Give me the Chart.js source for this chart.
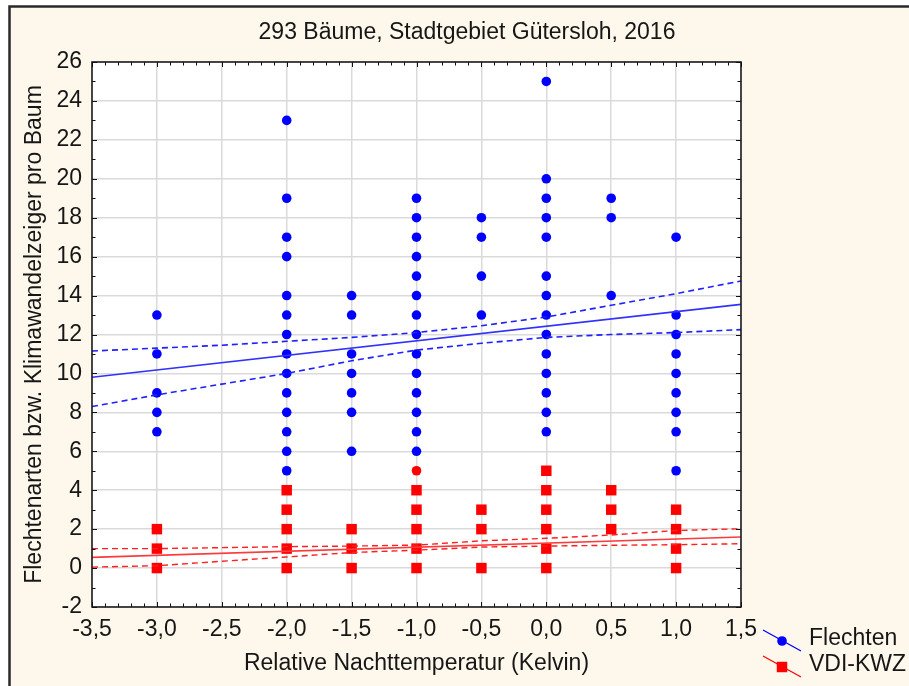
<!DOCTYPE html>
<html>
<head>
<meta charset="utf-8">
<title>293 Bäume, Stadtgebiet Gütersloh, 2016</title>
<script src="https://cdn.jsdelivr.net/npm/chart.js@4.4.0/dist/chart.umd.min.js"></script>
<style>
  html, body { margin: 0; padding: 0; background: #ffffff; }
  #wrap { width: 909px; height: 686px; }
</style>
</head>
<body>
<div id="wrap"><canvas id="chart" width="909" height="686"></canvas></div>
<script>
// Temperaturklassen (x) und Messwerte je Klasse
var tempColumns = [-3.0, -2.0, -1.5, -1.0, -0.5, 0.0, 0.5, 1.0];
var flechtenByColumn = [
    [13, 11, 9, 8, 7],
    [23, 19, 17, 16, 14, 13, 12, 11, 10, 9, 8, 7, 6, 5],
    [14, 13, 11, 10, 9, 8, 6],
    [19, 18, 17, 16, 15, 14, 13, 12, 11, 10, 9, 8, 7, 6, 5],
    [18, 17, 15, 13],
    [25, 20, 19, 18, 17, 15, 14, 13, 12, 11, 10, 9, 8, 7],
    [19, 18, 14],
    [17, 13, 12, 11, 10, 9, 8, 7, 5]
];
var vdiByColumn = [
    [2, 1, 0],
    [4, 3, 2, 1, 0],
    [2, 1, 0],
    [4, 3, 2, 1, 0],
    [3, 2, 0],
    [5, 4, 3, 2, 1, 0],
    [4, 3, 2],
    [3, 2, 1, 0]
];
// rot markierter Flechten-Punkt
var flechtenMarked = [[-1.0, 5]];

// Regressionsgeraden (Endpunkte) und Konfidenzbänder
var fitX = [-3.5, 1.5];
var flechtenFit = [9.8, 13.55];
var vdiFit = [0.55, 1.6];
var bandX = [-3.5, -3.0, -2.5, -2.0, -1.5, -1.0, -0.5, 0.0, 0.5, 1.0, 1.5];
var flechtenUpper = [11.15, 11.3, 11.45, 11.65, 11.85, 12.1, 12.45, 12.9, 13.5, 14.1, 14.75];
var flechtenLower = [8.3, 8.9, 9.45, 10.0, 10.65, 11.2, 11.55, 11.85, 12.0, 12.1, 12.25];
var vdiUpper = [1.0, 1.0, 1.05, 1.1, 1.13, 1.18, 1.4, 1.53, 1.7, 1.93, 2.02];
var vdiLower = [0.05, 0.12, 0.35, 0.57, 0.8, 0.92, 1.08, 1.13, 1.17, 1.2, 1.25];

// Achsen
var xMin = -3.5, xMax = 1.5, xStep = 0.5;
var yMin = -2, yMax = 26, yStep = 2;

var BLUE = '#0000ff';
var RED = '#ff0000';
var FONT = '"Liberation Sans", Arial, sans-serif';
var TEXT = '#161616';

// Punktlisten aus den Spalten bauen
function toPoints(columns) {
    var pts = [];
    for (var i = 0; i < tempColumns.length; i++) {
        for (var j = 0; j < columns[i].length; j++) {
            pts.push({ x: tempColumns[i], y: columns[i][j] });
        }
    }
    return pts;
}
function toLine(xs, ys) {
    return xs.map(function (x, i) { return { x: x, y: ys[i] }; });
}

var flechtenPoints = toPoints(flechtenByColumn);
var flechtenColors = flechtenPoints.map(function (p) {
    var marked = flechtenMarked.some(function (m) { return m[0] === p.x && m[1] === p.y; });
    return marked ? RED : BLUE;
});

function lineSet(data, color, dashed, width) {
    return {
        type: 'line',
        data: data,
        borderColor: color,
        borderWidth: width,
        borderDash: dashed ? [6, 4] : [],
        pointRadius: 0,
        showLine: true,
        fill: false,
        tension: 0,
        order: 1
    };
}

// Hintergrund, Rahmen, Titel, Teilstriche und Legende
var decorPlugin = {
    id: 'decor',
    beforeDraw: function (chart) {
        var ctx = chart.ctx, a = chart.chartArea;
        ctx.save();
        ctx.fillStyle = '#ffffff';
        ctx.fillRect(0, 0, chart.width, chart.height);
        ctx.fillStyle = '#fef8ec';
        ctx.fillRect(10, 7, chart.width - 10, chart.height - 7);
        ctx.strokeStyle = '#2a2a2a';
        ctx.lineWidth = 2.5;
        ctx.beginPath();
        ctx.moveTo(9.5, chart.height);
        ctx.lineTo(9.5, 6.5);
        ctx.lineTo(chart.width, 6.5);
        ctx.stroke();
        ctx.fillStyle = '#ffffff';
        ctx.fillRect(a.left, a.top, a.right - a.left, a.bottom - a.top);
        ctx.restore();
    },
    afterDraw: function (chart) {
        var ctx = chart.ctx, a = chart.chartArea;
        var xs = chart.scales.x, ys = chart.scales.y;
        ctx.save();

        // Titel
        ctx.fillStyle = TEXT;
        ctx.font = '23px ' + FONT;
        ctx.textAlign = 'center';
        ctx.textBaseline = 'middle';
        ctx.fillText('293 Bäume, Stadtgebiet Gütersloh, 2016', 467, 33);

        // Plotrahmen
        ctx.strokeStyle = '#111111';
        ctx.lineWidth = 1.5;
        ctx.strokeRect(a.left, a.top, a.right - a.left, a.bottom - a.top);

        // Teilstriche nach innen auf allen vier Seiten
        ctx.lineWidth = 1;
        ctx.beginPath();
        var i, px, len;
        for (i = 0; i <= 50; i++) {
            px = Math.round(xs.getPixelForValue(xMin + i * 0.1)) + 0.5;
            len = (i % 5 === 0) ? 5 : 3.5;
            ctx.moveTo(px, a.bottom); ctx.lineTo(px, a.bottom - len);
            ctx.moveTo(px, a.top); ctx.lineTo(px, a.top + len);
        }
        for (i = 0; i <= 28; i++) {
            px = Math.round(ys.getPixelForValue(yMin + i)) + 0.5;
            len = (i % 2 === 0) ? 5 : 3.5;
            ctx.moveTo(a.left, px); ctx.lineTo(a.left + len, px);
            ctx.moveTo(a.right, px); ctx.lineTo(a.right - len, px);
        }
        ctx.stroke();

        // Legende
        var items = [
            { label: 'Flechten', color: BLUE, style: 'circle', radius: 4.8, y: 641 },
            { label: 'VDI-KWZ', color: RED, style: 'rect', radius: 7.4, y: 667 }
        ];
        items.forEach(function (it) {
            ctx.strokeStyle = it.color;
            ctx.lineWidth = 1.3;
            ctx.beginPath();
            ctx.moveTo(763, it.y - 11);
            ctx.lineTo(801, it.y + 10);
            ctx.stroke();
            ctx.fillStyle = it.color;
            Chart.helpers.drawPoint(ctx, { pointStyle: it.style, radius: it.radius, borderWidth: 0, rotation: 0 }, 782, it.y);
            ctx.fillStyle = TEXT;
            ctx.font = '23px ' + FONT;
            ctx.textAlign = 'left';
            ctx.textBaseline = 'middle';
            ctx.fillText(it.label, 809, it.y - 2);
        });
        ctx.restore();
    }
};

var ctx = document.getElementById('chart').getContext('2d');
var chart = new Chart(ctx, {
    type: 'scatter',
    data: {
        datasets: [
            {
                label: 'Flechten',
                data: flechtenPoints,
                pointStyle: 'circle',
                pointRadius: 4.8,
                pointBorderWidth: 0,
                pointBackgroundColor: flechtenColors,
                pointBorderColor: flechtenColors,
                order: 3
            },
            {
                label: 'VDI-KWZ',
                data: toPoints(vdiByColumn),
                pointStyle: 'rect',
                pointRadius: 7.4,
                pointBorderWidth: 0,
                pointBackgroundColor: RED,
                pointBorderColor: RED,
                order: 3
            },
            lineSet(toLine(fitX, flechtenFit), '#3030ff', false, 1.6),
            lineSet(toLine(bandX, flechtenUpper), '#2020ff', true, 1.6),
            lineSet(toLine(bandX, flechtenLower), '#2020ff', true, 1.6),
            lineSet(toLine(fitX, vdiFit), '#ff3a3a', false, 1.6),
            lineSet(toLine(bandX, vdiUpper), '#ff2020', true, 1.4),
            lineSet(toLine(bandX, vdiLower), '#ff2020', true, 1.4)
        ]
    },
    options: {
        responsive: false,
        animation: false,
        events: [],
        layout: { padding: { top: 62, left: 0, right: 168, bottom: 0 } },
        plugins: {
            legend: { display: false },
            title: { display: false },
            tooltip: { enabled: false }
        },
        scales: {
            x: {
                type: 'linear',
                min: xMin,
                max: xMax,
                afterFit: function (scale) { scale.height = 79; },
                ticks: {
                    stepSize: xStep,
                    padding: 9,
                    maxRotation: 0,
                    color: TEXT,
                    font: { family: FONT, size: 23 },
                    callback: function (v) { return v.toFixed(1).replace('.', ','); }
                },
                grid: { color: '#dadada', lineWidth: 1.5, drawTicks: false },
                border: { display: false },
                title: {
                    display: true,
                    text: 'Relative Nachttemperatur (Kelvin)',
                    color: TEXT,
                    font: { family: FONT, size: 23 },
                    padding: { top: 0, bottom: 9 }
                }
            },
            y: {
                min: yMin,
                max: yMax,
                afterFit: function (scale) { scale.width = 92; },
                ticks: {
                    stepSize: yStep,
                    padding: 10,
                    color: TEXT,
                    font: { family: FONT, size: 23 }
                },
                grid: { color: '#dadada', lineWidth: 1.5, drawTicks: false },
                border: { display: false },
                title: {
                    display: true,
                    text: 'Flechtenarten bzw. Klimawandelzeiger pro Baum',
                    color: TEXT,
                    font: { family: FONT, size: 23 },
                    padding: { top: 21, bottom: 0 }
                }
            }
        }
    },
    plugins: [decorPlugin]
});
</script>
</body>
</html>
